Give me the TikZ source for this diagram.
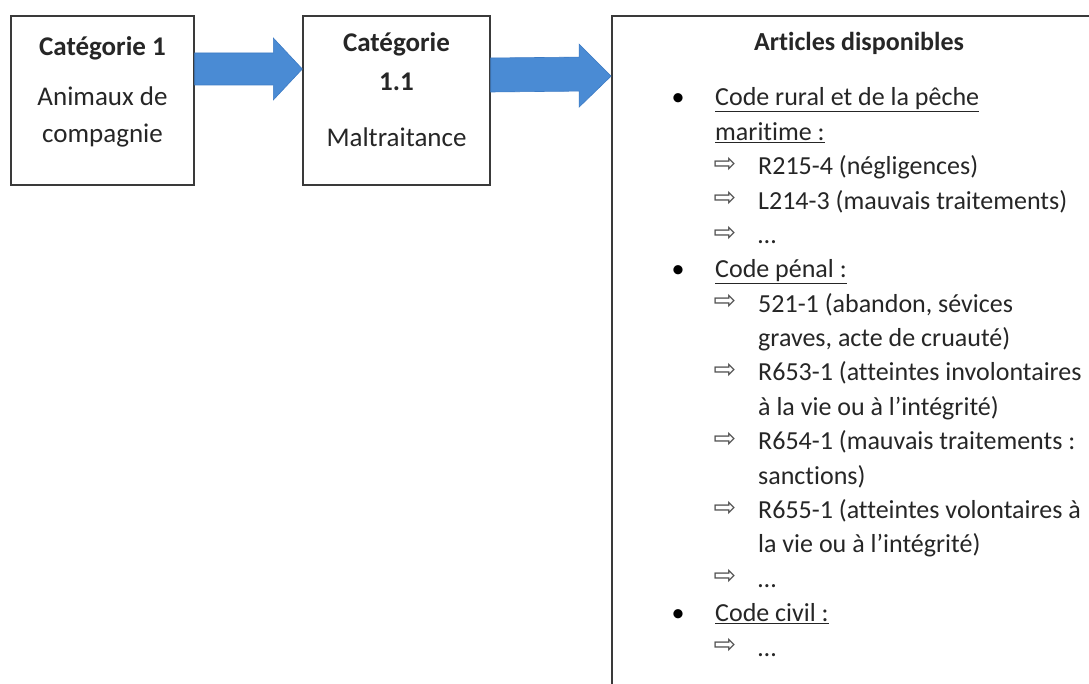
\documentclass[tikz,border=0pt]{standalone}
\usepackage{fontspec}
\setmainfont{Carlito}[Ligatures=NoCommon]
\newfontfamily\djv{DejaVu Sans}
\usetikzlibrary{calc}
\definecolor{arrowblue}{HTML}{4A8BD4}
\definecolor{arrowedge}{HTML}{3D7BC4}
\definecolor{txt}{HTML}{262626}
\definecolor{boxline}{HTML}{3A3A3A}
\begin{document}
\begin{tikzpicture}[x=1pt,y=-1pt,
 box/.style={draw=boxline,line width=1.4pt,minimum width=183pt,minimum height=169pt,inner sep=0pt},
 blockarrow/.style={fill=arrowblue,draw=arrowedge,line width=0.6pt,line join=miter},
 boxtxt/.style={anchor=base,font=\fontsize{27}{32}\selectfont,text=txt,inner sep=0pt},
 boxhead/.style={anchor=base,font=\fontsize{27}{32}\selectfont\bfseries,text=txt,inner sep=0pt},
 item/.style={anchor=base west,font=\fontsize{26}{31}\selectfont,text=txt,inner sep=0pt},
 bul/.style={anchor=base,font=\fontsize{26}{31}\selectfont,text=black,inner sep=0pt},
 arr/.style={anchor=center,font=\djv\fontsize{27}{32}\selectfont,text=txt!80,inner sep=0pt}
]
\useasboundingbox (0,0) rectangle (1089,684);
\fill[white] (0,0) rectangle (1089,684);
\clip (0,0) rectangle (1089,684);

% boxes
\node[box] (b1) at (102.5,100.5) {};
\node[box,minimum width=187pt] (b2) at (396.5,100.5) {};
\node[box,line width=1.8pt,minimum width=500pt,minimum height=700pt] (b3) at (862,366) {};

% block arrows
\draw[blockarrow] ($(b1.east)+(0,-47.5)$) -- ($(b2.west)+(-29,-47.5)$) -- ($(b2.west)+(-29,-62.5)$)
  -- ($(b2.west)+(0,-31.5)$) -- ($(b2.west)+(-29,-0.5)$) -- ($(b2.west)+(-29,-15.5)$)
  -- ($(b1.east)+(0,-15.5)$) -- cycle;
\draw[blockarrow] ($(b2.east)+(0,-42.5)$) -- ($(b3.north west)+(-32,42)$) -- ($(b3.north west)+(-32,29)$)
  -- ($(b3.north west)+(0,61)$) -- ($(b3.north west)+(-32,92)$) -- ($(b3.north west)+(-32,76)$)
  -- ($(b2.east)+(0,-8.5)$) -- cycle;

% box 1 text
\node[boxhead] (t1a) at (102.5,56) {Catégorie 1};
\node[boxtxt] (t1b) at (102.5,106) {Animaux de};
\node[boxtxt] (t1c) at (102.5,143) {compagnie};

% box 2 text
\node[boxhead] (t2a) at (396.5,52) {Catégorie};
\node[boxhead] (t2b) at (396.5,91) {1.1};
\node[boxtxt] (t2c) at (396.5,147) {Maltraitance};

% box 3 text
\node[anchor=base,font=\fontsize{26}{31}\selectfont\bfseries,text=txt,inner sep=0pt] (t3) at (859,51) {Articles disponibles};

\node[bul] (m0) at (678,106) {•};
\node[item] (l0) at (715,106) {\underline{Code rural et de la pêche}};
\node[item] (l1) at (715,140.4) {\underline{maritime :}};
\node[arr] (m2) at (725,164.8) {⇨};
\node[item] (l2) at (758,174.8) {R215-4 (négligences)};
\node[arr] (m3) at (725,199.1) {⇨};
\node[item] (l3) at (758,209.1) {L214-3 (mauvais traitements)};
\node[arr] (m4) at (725,233.5) {⇨};
\node[item] (l4) at (758,243.5) {…};
\node[bul] (m5) at (678,277.9) {•};
\node[item] (l5) at (715,277.9) {\underline{Code pénal :}};
\node[arr] (m6) at (725,302.3) {⇨};
\node[item] (l6) at (758,312.3) {521-1 (abandon, sévices};
\node[item] (l7) at (758,346.6) {graves, acte de cruauté)};
\node[arr] (m8) at (725,371) {⇨};
\node[item] (l8) at (758,381) {R653-1 (atteintes involontaires};
\node[item] (l9) at (758,415.4) {à la vie ou à l’intégrité)};
\node[arr] (m10) at (725,439.8) {⇨};
\node[item] (l10) at (758,449.8) {R654-1 (mauvais traitements :};
\node[item] (l11) at (758,484.1) {sanctions)};
\node[arr] (m12) at (725,508.5) {⇨};
\node[item] (l12) at (758,518.5) {R655-1 (atteintes volontaires à};
\node[item] (l13) at (758,552.9) {la vie ou à l’intégrité)};
\node[arr] (m14) at (725,577.3) {⇨};
\node[item] (l14) at (758,587.3) {…};
\node[bul] (m15) at (678,621.6) {•};
\node[item] (l15) at (715,621.6) {\underline{Code civil :}};
\node[arr] (m16) at (725,646) {⇨};
\node[item] (l16) at (758,656) {…};
\end{tikzpicture}
\end{document}
